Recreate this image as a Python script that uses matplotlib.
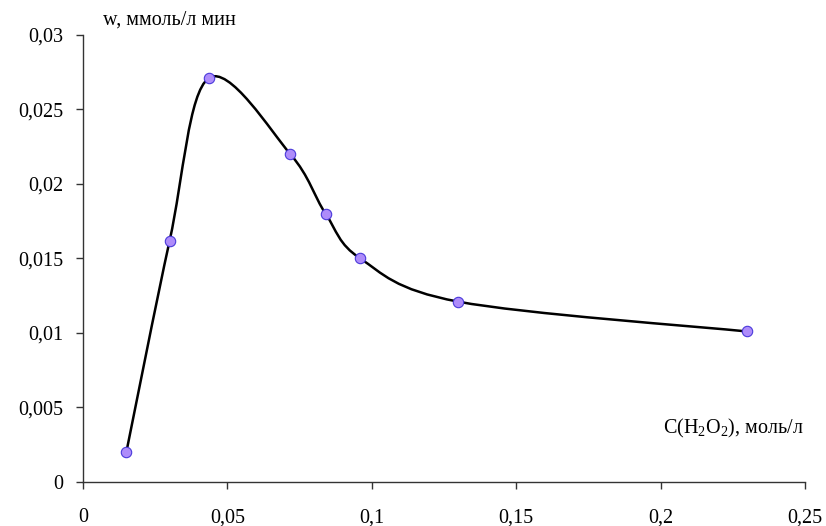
import numpy as np
import matplotlib
matplotlib.use("Agg")
import matplotlib.pyplot as plt
from matplotlib.path import Path
from matplotlib.patches import PathPatch
from matplotlib.ticker import FuncFormatter

plt.rcParams["font.family"] = ["Liberation Serif", "DejaVu Serif"]
plt.rcParams["mathtext.fontset"] = "custom"
plt.rcParams["mathtext.rm"] = "Liberation Serif"
plt.rcParams["mathtext.it"] = "Liberation Serif"

# concentration of H2O2, mol/l
conc = [0.015, 0.030, 0.0435, 0.0718, 0.084, 0.096, 0.130, 0.230]
# rate w, mmol/l min
rate = [0.0020, 0.0162, 0.0271, 0.0220, 0.0180, 0.0150, 0.0121, 0.0101]

x_ticks = [0, 0.05, 0.1, 0.15, 0.2, 0.25]
y_ticks = [0, 0.005, 0.01, 0.015, 0.02, 0.025, 0.03]

FS = 14.5


def comma(v, pos):
    s = f"{v:.3f}".rstrip("0").rstrip(".")
    return s.replace(".", ",")


def smooth_path(ax, xs, ys):
    # Excel-like smoothed line: cubic bezier segments built in screen space
    pts = ax.transData.transform(np.column_stack([xs, ys]))
    n = len(pts)
    verts = [pts[0]]
    codes = [Path.MOVETO]
    for i in range(n - 1):
        p0 = pts[i - 1] if i > 0 else pts[i]
        p1 = pts[i]
        p2 = pts[i + 1]
        p3 = pts[i + 2] if i + 2 < n else pts[i + 1]
        c1 = p1 + (p2 - p0) / 6.0
        c2 = p2 - (p3 - p1) / 6.0
        verts += [c1, c2, p2]
        codes += [Path.CURVE4] * 3
    verts = ax.transData.inverted().transform(np.array(verts))
    return Path(verts, codes)


fig = plt.figure(figsize=(8.26, 5.26), dpi=100)
ax = fig.add_axes([0.1005, 0.0837, 0.8741, 0.8498])
ax.set_xlim(0, 0.25)
ax.set_ylim(0, 0.03)
ax.set_xticks(x_ticks)
ax.set_yticks(y_ticks)
ax.xaxis.set_major_formatter(FuncFormatter(comma))
ax.yaxis.set_major_formatter(FuncFormatter(comma))
for side in ["top", "right"]:
    ax.spines[side].set_visible(False)
for side in ["left", "bottom"]:
    ax.spines[side].set_color("#333333")
    ax.spines[side].set_linewidth(1.0)
ax.tick_params(direction="out", length=5, width=1.0, color="#333333",
               labelsize=FS)
ax.tick_params(axis="y", pad=9)
ax.tick_params(axis="x", pad=14)

ax.add_patch(PathPatch(smooth_path(ax, conc, rate), facecolor="none",
                       edgecolor="black", linewidth=1.8, zorder=2))
ax.plot(conc, rate, linestyle="none", marker="o", markersize=7.5,
        markerfacecolor="#AE8CFA", markeredgecolor="#4A3ADB",
        markeredgewidth=0.8, zorder=3)

fig.text(0.125, 0.962, "w, ммоль/л мин", fontsize=FS, va="center",
         ha="left")
ax.text(0.2495, 0.0036, "C(H$_2$O$_2$), моль/л", fontsize=FS,
        ha="right", va="center")

fig.savefig("out.png", dpi=100, facecolor="white")
